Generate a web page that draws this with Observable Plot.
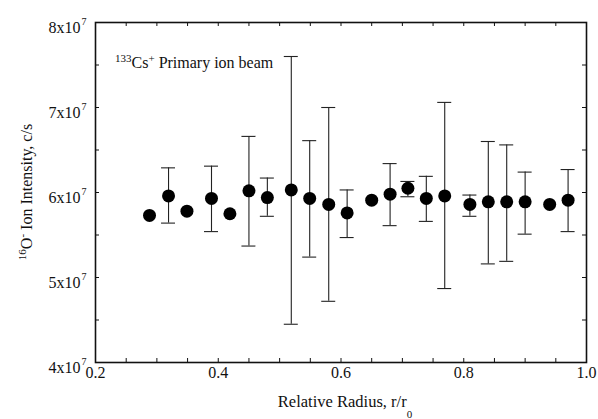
<!DOCTYPE html>
<html>
<head>
<meta charset="utf-8">
<script src="https://cdn.jsdelivr.net/npm/d3@7"></script>
<script src="https://cdn.jsdelivr.net/npm/@observablehq/plot@0.6"></script>
<style>
  html, body { margin: 0; padding: 0; background: #fff; }
  svg { display: block; }
</style>
</head>
<body>
<div id="chart"></div>
<script>
// Data
const radius = [0.288,0.319,0.349,0.389,0.419,0.450,0.480,0.519,0.549,0.580,0.610,0.650,0.680,0.709,0.739,0.769,0.810,0.840,0.870,0.900,0.940,0.970];
const intensity = [5.73e7,5.96e7,5.78e7,5.93e7,5.75e7,6.02e7,5.94e7,6.03e7,5.93e7,5.86e7,5.76e7,5.91e7,5.98e7,6.05e7,5.93e7,5.96e7,5.86e7,5.89e7,5.89e7,5.89e7,5.86e7,5.91e7];
const errHigh = [null,6.29e7,null,6.31e7,null,6.66e7,6.17e7,7.60e7,6.61e7,7.00e7,6.03e7,null,6.34e7,6.13e7,6.19e7,7.06e7,5.97e7,6.60e7,6.56e7,6.24e7,null,6.27e7];
const errLow  = [null,5.64e7,null,5.54e7,null,5.37e7,5.72e7,4.45e7,5.24e7,4.72e7,5.47e7,null,5.61e7,5.95e7,5.66e7,4.87e7,5.72e7,5.16e7,5.19e7,5.51e7,null,5.54e7];

const xTickLabels = [0.2, 0.4, 0.6, 0.8, 1.0];
const xMinorTicks = [0.25,0.3,0.35,0.4,0.45,0.5,0.55,0.6,0.65,0.7,0.75,0.8,0.85,0.9,0.95];
const yTickLabels = [4e7, 5e7, 6e7, 7e7, 8e7];
const yMinorTicks = [4.5e7,5e7,5.5e7,6e7,6.5e7,7e7,7.5e7];

const points = radius.map((r, i) => ({x: r, y: intensity[i], hi: errHigh[i], lo: errLow[i]}));
const bars = points.filter(d => d.hi != null);

const xMin = 0.2, xMax = 1.0, yMin = 4e7, yMax = 8e7;
const ink = "#111";

const svg = Plot.plot({
  width: 598,
  height: 419,
  marginLeft: 95,
  marginRight: 12,
  marginTop: 22,
  marginBottom: 57,
  style: {fontFamily: "'Liberation Serif', 'Times New Roman', serif", fontSize: "16px", background: "#fff", color: ink},
  x: {domain: [xMin, xMax], axis: null},
  y: {domain: [yMin, yMax], axis: null},
  marks: [
    // inward ticks on all four sides
    Plot.ruleX(xMinorTicks, {x: d => d, y1: yMin, y2: yMin, insetTop: -4, stroke: ink}),
    Plot.ruleX(xMinorTicks, {x: d => d, y1: yMax, y2: yMax, insetBottom: -4, stroke: ink}),
    Plot.ruleY(yMinorTicks, {y: d => d, x1: xMin, x2: xMin, insetRight: -4, stroke: ink}),
    Plot.ruleY(yMinorTicks, {y: d => d, x1: xMax, x2: xMax, insetLeft: -4, stroke: ink}),
    // error bars
    Plot.ruleX(bars, {x: "x", y1: "lo", y2: "hi", stroke: "#222", strokeWidth: 1.1}),
    Plot.ruleY(bars, {y: "hi", x1: "x", x2: "x", insetLeft: -7, insetRight: -7, stroke: "#222", strokeWidth: 1.1}),
    Plot.ruleY(bars, {y: "lo", x1: "x", x2: "x", insetLeft: -7, insetRight: -7, stroke: "#222", strokeWidth: 1.1}),
    // points
    Plot.dot(points, {x: "x", y: "y", r: 6.5, fill: "#000", stroke: null}),
    Plot.frame({stroke: ink, strokeWidth: 1.6}),
    // x tick labels
    Plot.text(xTickLabels, {x: d => d, text: d => d.toFixed(1), frameAnchor: "bottom", lineAnchor: "top", dy: 4, fontSize: 16, fill: ink}),
    // y tick labels "Nx10" with superscript 7
    Plot.text(yTickLabels, {x: () => xMin, y: d => d, text: d => `${d / 1e7}x10`, textAnchor: "end", lineAnchor: "bottom", dx: -15, dy: 10, fontSize: 16, fill: ink}),
    Plot.text(yTickLabels, {x: () => xMin, y: d => d, text: d => "7", textAnchor: "start", lineAnchor: "bottom", dx: -14, dy: 2, fontSize: 10, fill: ink})
  ]
});

const s = d3.select(svg);
// Annotation
const ann = s.append("text").attr("x", 115).attr("y", 68).attr("text-anchor", "start").attr("font-size", 16).attr("fill", ink);
ann.append("tspan").attr("font-size", 11).attr("dy", -6).text("133");
ann.append("tspan").attr("dy", 6).text("Cs");
ann.append("tspan").attr("font-size", 11).attr("dy", -6).text("+");
ann.append("tspan").attr("dy", 6).text(" Primary ion beam");

// X axis title
const xt = s.append("text").attr("x", 345).attr("y", 407).attr("text-anchor", "middle").attr("font-size", 16.5).attr("fill", ink);
xt.append("tspan").text("Relative Radius, r/r");
xt.append("tspan").attr("font-size", 11).attr("dy", 11).text("0");

// Y axis title
const yt = s.append("text").attr("transform", "translate(32,192) rotate(-90)").attr("text-anchor", "middle").attr("font-size", 16).attr("fill", ink);
yt.append("tspan").attr("font-size", 11).attr("dy", -6).text("16");
yt.append("tspan").attr("dy", 6).text("O");
yt.append("tspan").attr("font-size", 11).attr("dy", -6).text("-");
yt.append("tspan").attr("dy", 6).text(" Ion Intensity, c/s");

document.getElementById("chart").appendChild(svg);
</script>
</body>
</html>
